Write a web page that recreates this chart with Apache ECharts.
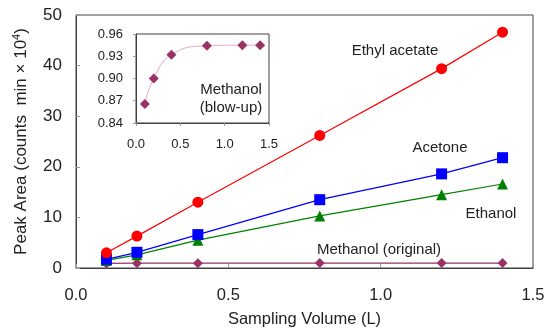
<!DOCTYPE html>
<html><head><meta charset="utf-8">
<script src="https://cdn.jsdelivr.net/npm/echarts@6/dist/echarts.min.js"></script>
<style>html,body{margin:0;padding:0;background:#fff}#c{width:550px;height:333px}</style>
</head><body><div id="c"></div>
<script>
const volumes = [0.1, 0.2, 0.4, 0.8, 1.2, 1.4];
const ethylAcetate = [3.0, 6.3, 13.0, 26.2, 39.4, 46.6];
const acetone = [1.7, 3.1, 6.6, 13.5, 18.6, 21.8];
const ethanol = [1.5, 2.6, 5.5, 10.3, 14.5, 16.6];
const methanolOriginal = [0.9, 0.95, 0.95, 0.97, 0.97, 0.97];
const methanolBlowUp = [0.8655, 0.900, 0.932, 0.944, 0.945, 0.945];
const xTicks = [0.0, 0.5, 1.0, 1.5];
const yTicks = [0, 10, 20, 30, 40, 50];
const insetXTicks = [0.0, 0.5, 1.0, 1.5];
const insetYTicks = [0.84, 0.87, 0.90, 0.93, 0.96];

const pts = a => volumes.map((v, i) => [v, a[i]]);
const font = 'Liberation Sans, Arial, sans-serif';
const chart = echarts.init(document.getElementById('c'), null, {renderer: 'canvas'});

const frame = {show: true, lineStyle: {color: '#404040', width: 1}};
const txt = (s, x, y) => ({type: 'text', x: x, y: y, z: 100,
  style: {text: s, font: '15px ' + font, fill: '#222', align: 'center', verticalAlign: 'middle', lineHeight: 18}});
chart.setOption({
  animation: false,
  backgroundColor: '#fff',
  grid: [
    {left: 76, right: 17, top: 15, bottom: 62, show: true, borderColor: '#404040', borderWidth: 1, backgroundColor: 'transparent'},
    {left: 136, top: 34, width: 133, height: 89, show: true, borderColor: '#404040', borderWidth: 1, backgroundColor: '#fff'}
  ],
  xAxis: [
    {gridIndex: 0, type: 'value', min: xTicks[0], max: xTicks[xTicks.length-1], interval: 0.5,
     axisLine: frame, axisTick: {show: true, inside: true, length: 4, lineStyle: {color: '#999'}},
     splitLine: {show: false},
     axisLabel: {fontFamily: font, fontSize: 16.5, color: '#222', margin: 19, formatter: v => v.toFixed(1)},
     name: 'Sampling Volume (L)', nameLocation: 'middle', nameGap: 43,
     nameTextStyle: {fontFamily: font, fontSize: 16.5, color: '#222'}},
    {gridIndex: 1, type: 'value', min: insetXTicks[0], max: insetXTicks[insetXTicks.length-1], interval: 0.5,
     axisLine: frame, axisTick: {show: true, inside: false, length: 3, lineStyle: {color: '#999'}},
     splitLine: {show: false},
     axisLabel: {fontFamily: font, fontSize: 13, color: '#222', margin: 15, formatter: v => v.toFixed(1)}}
  ],
  yAxis: [
    {gridIndex: 0, type: 'value', min: yTicks[0], max: yTicks[yTicks.length-1], interval: 10,
     axisLine: frame, axisTick: {show: true, inside: true, length: 4, lineStyle: {color: '#999'}},
     splitLine: {show: false},
     axisLabel: {fontFamily: font, fontSize: 17, color: '#222', margin: 14},
     name: '{n|Peak Area (counts  min × 10}{s|4}{n|)}', nameLocation: 'middle', nameGap: 45,
     nameTextStyle: {rich: {n: {fontFamily: font, fontSize: 17, color: '#222'}, s: {fontFamily: font, fontSize: 11, color: '#222', verticalAlign: 'top', padding: [0,0,9,0]}}}},
    {gridIndex: 1, type: 'value', min: insetYTicks[0], max: insetYTicks[insetYTicks.length-1], interval: 0.03,
     axisLine: frame, axisTick: {show: true, inside: false, length: 3, lineStyle: {color: '#999'}},
     splitLine: {show: false},
     axisLabel: {fontFamily: font, fontSize: 13, color: '#222', margin: 13, formatter: v => v.toFixed(2)}}
  ],
  series: [
    {type: 'line', data: pts(methanolOriginal), xAxisIndex: 0, yAxisIndex: 0, symbol: 'diamond', symbolSize: 10,
     itemStyle: {color: '#993366'}, lineStyle: {color: '#993366', width: 1.2}},
    {type: 'line', data: pts(ethanol), xAxisIndex: 0, yAxisIndex: 0, symbol: 'triangle', symbolSize: 11,
     itemStyle: {color: '#008000'}, lineStyle: {color: '#008000', width: 1.2}},
    {type: 'line', data: pts(acetone), xAxisIndex: 0, yAxisIndex: 0, symbol: 'rect', symbolSize: 11,
     itemStyle: {color: '#0000ff'}, lineStyle: {color: '#0000ff', width: 1.2}},
    {type: 'line', data: pts(ethylAcetate), xAxisIndex: 0, yAxisIndex: 0, symbol: 'circle', symbolSize: 11,
     itemStyle: {color: '#ff0000'}, lineStyle: {color: '#ff0000', width: 1.2}},
    {type: 'line', data: pts(methanolBlowUp), xAxisIndex: 1, yAxisIndex: 1, symbol: 'diamond', symbolSize: 10,
     smooth: 0.5, itemStyle: {color: '#993366'}, lineStyle: {color: '#e8a8c8', width: 1}}
  ],
  graphic: [
    txt('Ethyl acetate', 395, 51),
    txt('Acetone', 440, 148),
    txt('Ethanol', 491, 214),
    txt('Methanol (original)', 379, 250),
    txt('Methanol\n(blow-up)', 231, 99)
  ]
});
</script></body></html>
